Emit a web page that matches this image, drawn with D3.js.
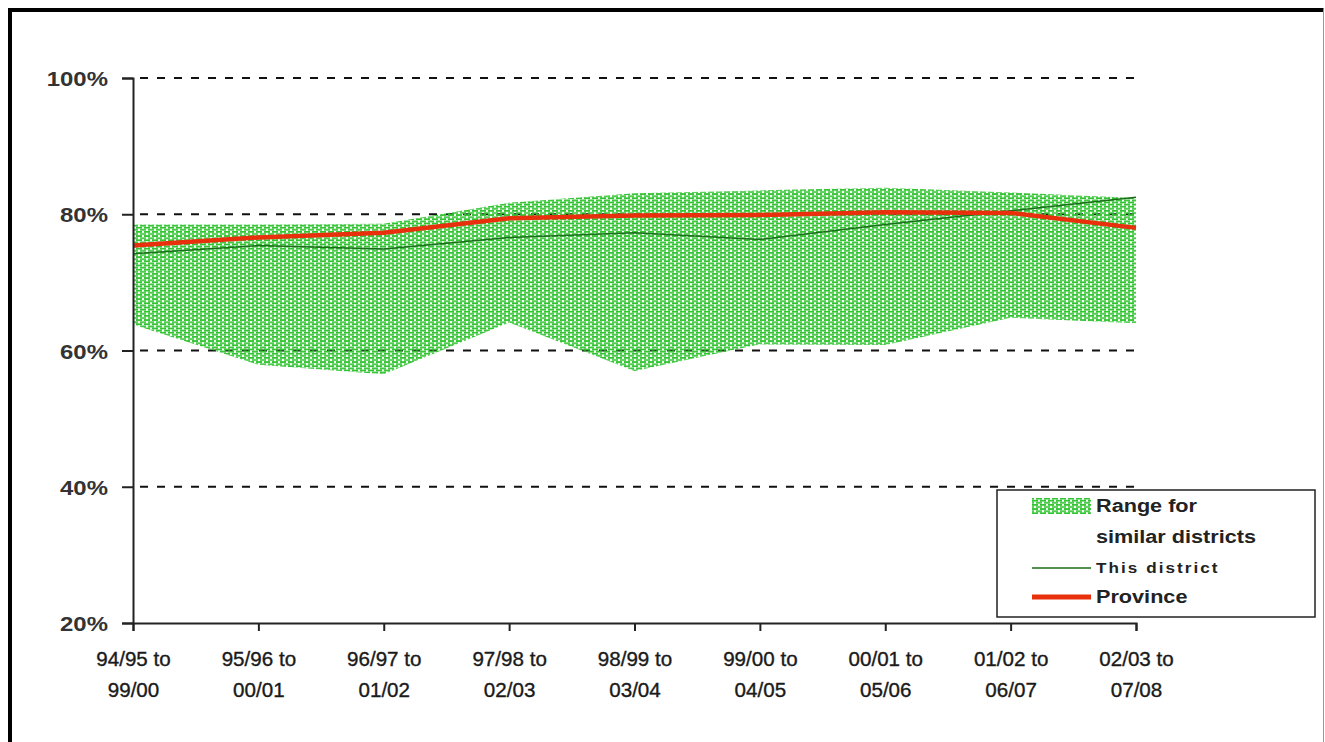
<!DOCTYPE html>
<html>
<head>
<meta charset="utf-8">
<script src="https://cdn.jsdelivr.net/npm/d3@7"></script>
<style>
    body { margin: 0; background: #fff; }
    text { font-family: "Liberation Sans", Arial, sans-serif; }
</style>
</head>
<body>
<div id="chart"></div>
<script>
// periods on the x axis (two lines each)
var periods = ["94/95 to|99/00", "95/96 to|00/01", "96/97 to|01/02", "97/98 to|02/03",
    "98/99 to|03/04", "99/00 to|04/05", "00/01 to|05/06", "01/02 to|06/07", "02/03 to|07/08"];

// range for similar districts (%)
var rangeHigh = [78.5, 78.5, 78.6, 81.7, 83.1, 83.5, 83.9, 83.2, 82.4];
var rangeLow = [63.8, 57.9, 56.5, 64.1, 57.0, 60.9, 60.8, 64.8, 64.0];

// this district and province (%)
var district = [74.2, 75.4, 74.9, 76.6, 77.3, 76.3, 78.5, 80.5, 82.5];
var province = [75.4, 76.6, 77.3, 79.4, 79.8, 79.9, 80.3, 80.2, 78.0];

var yTicks = [20, 40, 60, 80, 100];

var width = 1325,
    height = 742,
    stretch = 1.14;

var svg = d3.select("#chart").append("svg")
    .attr("width", width)
    .attr("height", height);

// pattern for the hatched range
var defs = svg.append("defs");
var pat = defs.append("pattern")
    .attr("id", "hatch")
    .attr("patternUnits", "userSpaceOnUse")
    .attr("width", 8)
    .attr("height", 4.2);
pat.append("rect").attr("x", 0).attr("y", 0).attr("width", 6).attr("height", 1.8).attr("fill", "#33c433");
pat.append("rect").attr("x", 4).attr("y", 2.1).attr("width", 6).attr("height", 1.8).attr("fill", "#33c433");
pat.append("rect").attr("x", -4).attr("y", 2.1).attr("width", 6).attr("height", 1.8).attr("fill", "#33c433");

// outer frame
svg.append("path")
    .attr("d", "M10,742 L10,10 L1323.5,10")
    .attr("fill", "none")
    .attr("stroke", "#000")
    .attr("stroke-width", 4);
svg.append("line")
    .attr("x1", 1323.5).attr("x2", 1323.5)
    .attr("y1", 10).attr("y2", 742)
    .attr("stroke", "#999")
    .attr("stroke-width", 1);

var x = d3.scalePoint()
    .domain(periods)
    .range([133, 1136]);

var y = d3.scaleLinear()
    .domain([20, 100])
    .range([623, 78]);

// dashed gridlines
svg.append("g")
    .selectAll("line")
    .data(yTicks.filter(d => d > 20))
    .enter().append("line")
    .attr("x1", 140)
    .attr("x2", 1136)
    .attr("y1", d => y(d))
    .attr("y2", d => y(d))
    .attr("stroke", "#111")
    .attr("stroke-width", 2)
    .attr("stroke-dasharray", "8,9");

// range area
var area = d3.area()
    .x((d, i) => x(periods[i]))
    .y0((d, i) => y(rangeLow[i]))
    .y1(d => y(d));

svg.append("path")
    .datum(rangeHigh)
    .attr("d", area)
    .attr("fill", "url(#hatch)");

var line = d3.line()
    .x((d, i) => x(periods[i]))
    .y(d => y(d));

svg.append("path")
    .datum(district)
    .attr("d", line)
    .attr("fill", "none")
    .attr("stroke", "#1a6e1a")
    .attr("stroke-width", 1.5);

svg.append("path")
    .datum(province)
    .attr("d", line)
    .attr("fill", "none")
    .attr("stroke", "#e8300c")
    .attr("stroke-width", 4.5)
    .attr("stroke-linejoin", "round");

// y axis
var yAxis = svg.append("g")
    .attr("transform", "translate(133,0)")
    .call(d3.axisLeft(y).tickValues(yTicks).tickSize(11).tickPadding(11).tickFormat(d => d + "%"));
yAxis.select(".domain").attr("stroke", "#222").attr("stroke-width", 2);
yAxis.selectAll(".tick line").attr("stroke", "#222").attr("stroke-width", 2);
yAxis.selectAll(".tick text")
    .attr("font-size", 21)
    .attr("font-weight", "bold")
    .attr("fill", "#333")
    .attr("dy", "0.36em")
    .attr("transform", "scale(" + stretch + ",1)");

// x axis
var xAxis = svg.append("g")
    .attr("transform", "translate(0,623)")
    .call(d3.axisBottom(x).tickSize(8).tickFormat(""));
xAxis.select(".domain").attr("stroke", "#222").attr("stroke-width", 2);
xAxis.selectAll(".tick line").attr("stroke", "#222").attr("stroke-width", 2);
xAxis.selectAll(".tick").each(function (d) {
    var parts = d.split("|");
    var t = d3.select(this).select("text")
        .attr("font-size", 20)
        .attr("fill", "#1a1a1a")
        .attr("stroke", "#1a1a1a")
        .attr("stroke-width", 0.35)
        .attr("text-anchor", "middle")
        .attr("y", 0)
        .attr("dy", null)
        .attr("transform", "scale(1.03,1)")
        .text(null);
    t.append("tspan").attr("x", 0).attr("y", 43).text(parts[0]);
    t.append("tspan").attr("x", 0).attr("y", 74).text(parts[1]);
});

// legend
var legend = svg.append("g");
legend.append("rect")
    .attr("x", 997).attr("y", 490)
    .attr("width", 318).attr("height", 127)
    .attr("fill", "#fff")
    .attr("stroke", "#222")
    .attr("stroke-width", 1.5);
legend.append("rect")
    .attr("x", 1032).attr("y", 498)
    .attr("width", 59).attr("height", 16)
    .attr("fill", "url(#hatch)");
legend.append("line")
    .attr("x1", 1032).attr("x2", 1091)
    .attr("y1", 568).attr("y2", 568)
    .attr("stroke", "#1a6e1a").attr("stroke-width", 1.5);
legend.append("line")
    .attr("x1", 1032).attr("x2", 1091)
    .attr("y1", 597).attr("y2", 597)
    .attr("stroke", "#e8300c").attr("stroke-width", 5);

var legendText = [
    {t: "Range for", y: 512, s: 19, ls: 0},
    {t: "similar districts", y: 543, s: 19, ls: 0},
    {t: "This district", y: 573, s: 15, ls: 1.8},
    {t: "Province", y: 603, s: 19, ls: 0}
];
legend.selectAll("text.lt")
    .data(legendText)
    .enter().append("text")
    .attr("class", "lt")
    .attr("transform", d => "translate(1096," + d.y + ") scale(" + stretch + ",1)")
    .attr("font-size", d => d.s)
    .attr("font-weight", "bold")
    .attr("letter-spacing", d => d.ls)
    .attr("fill", "#222")
    .text(d => d.t);
</script>
</body>
</html>
